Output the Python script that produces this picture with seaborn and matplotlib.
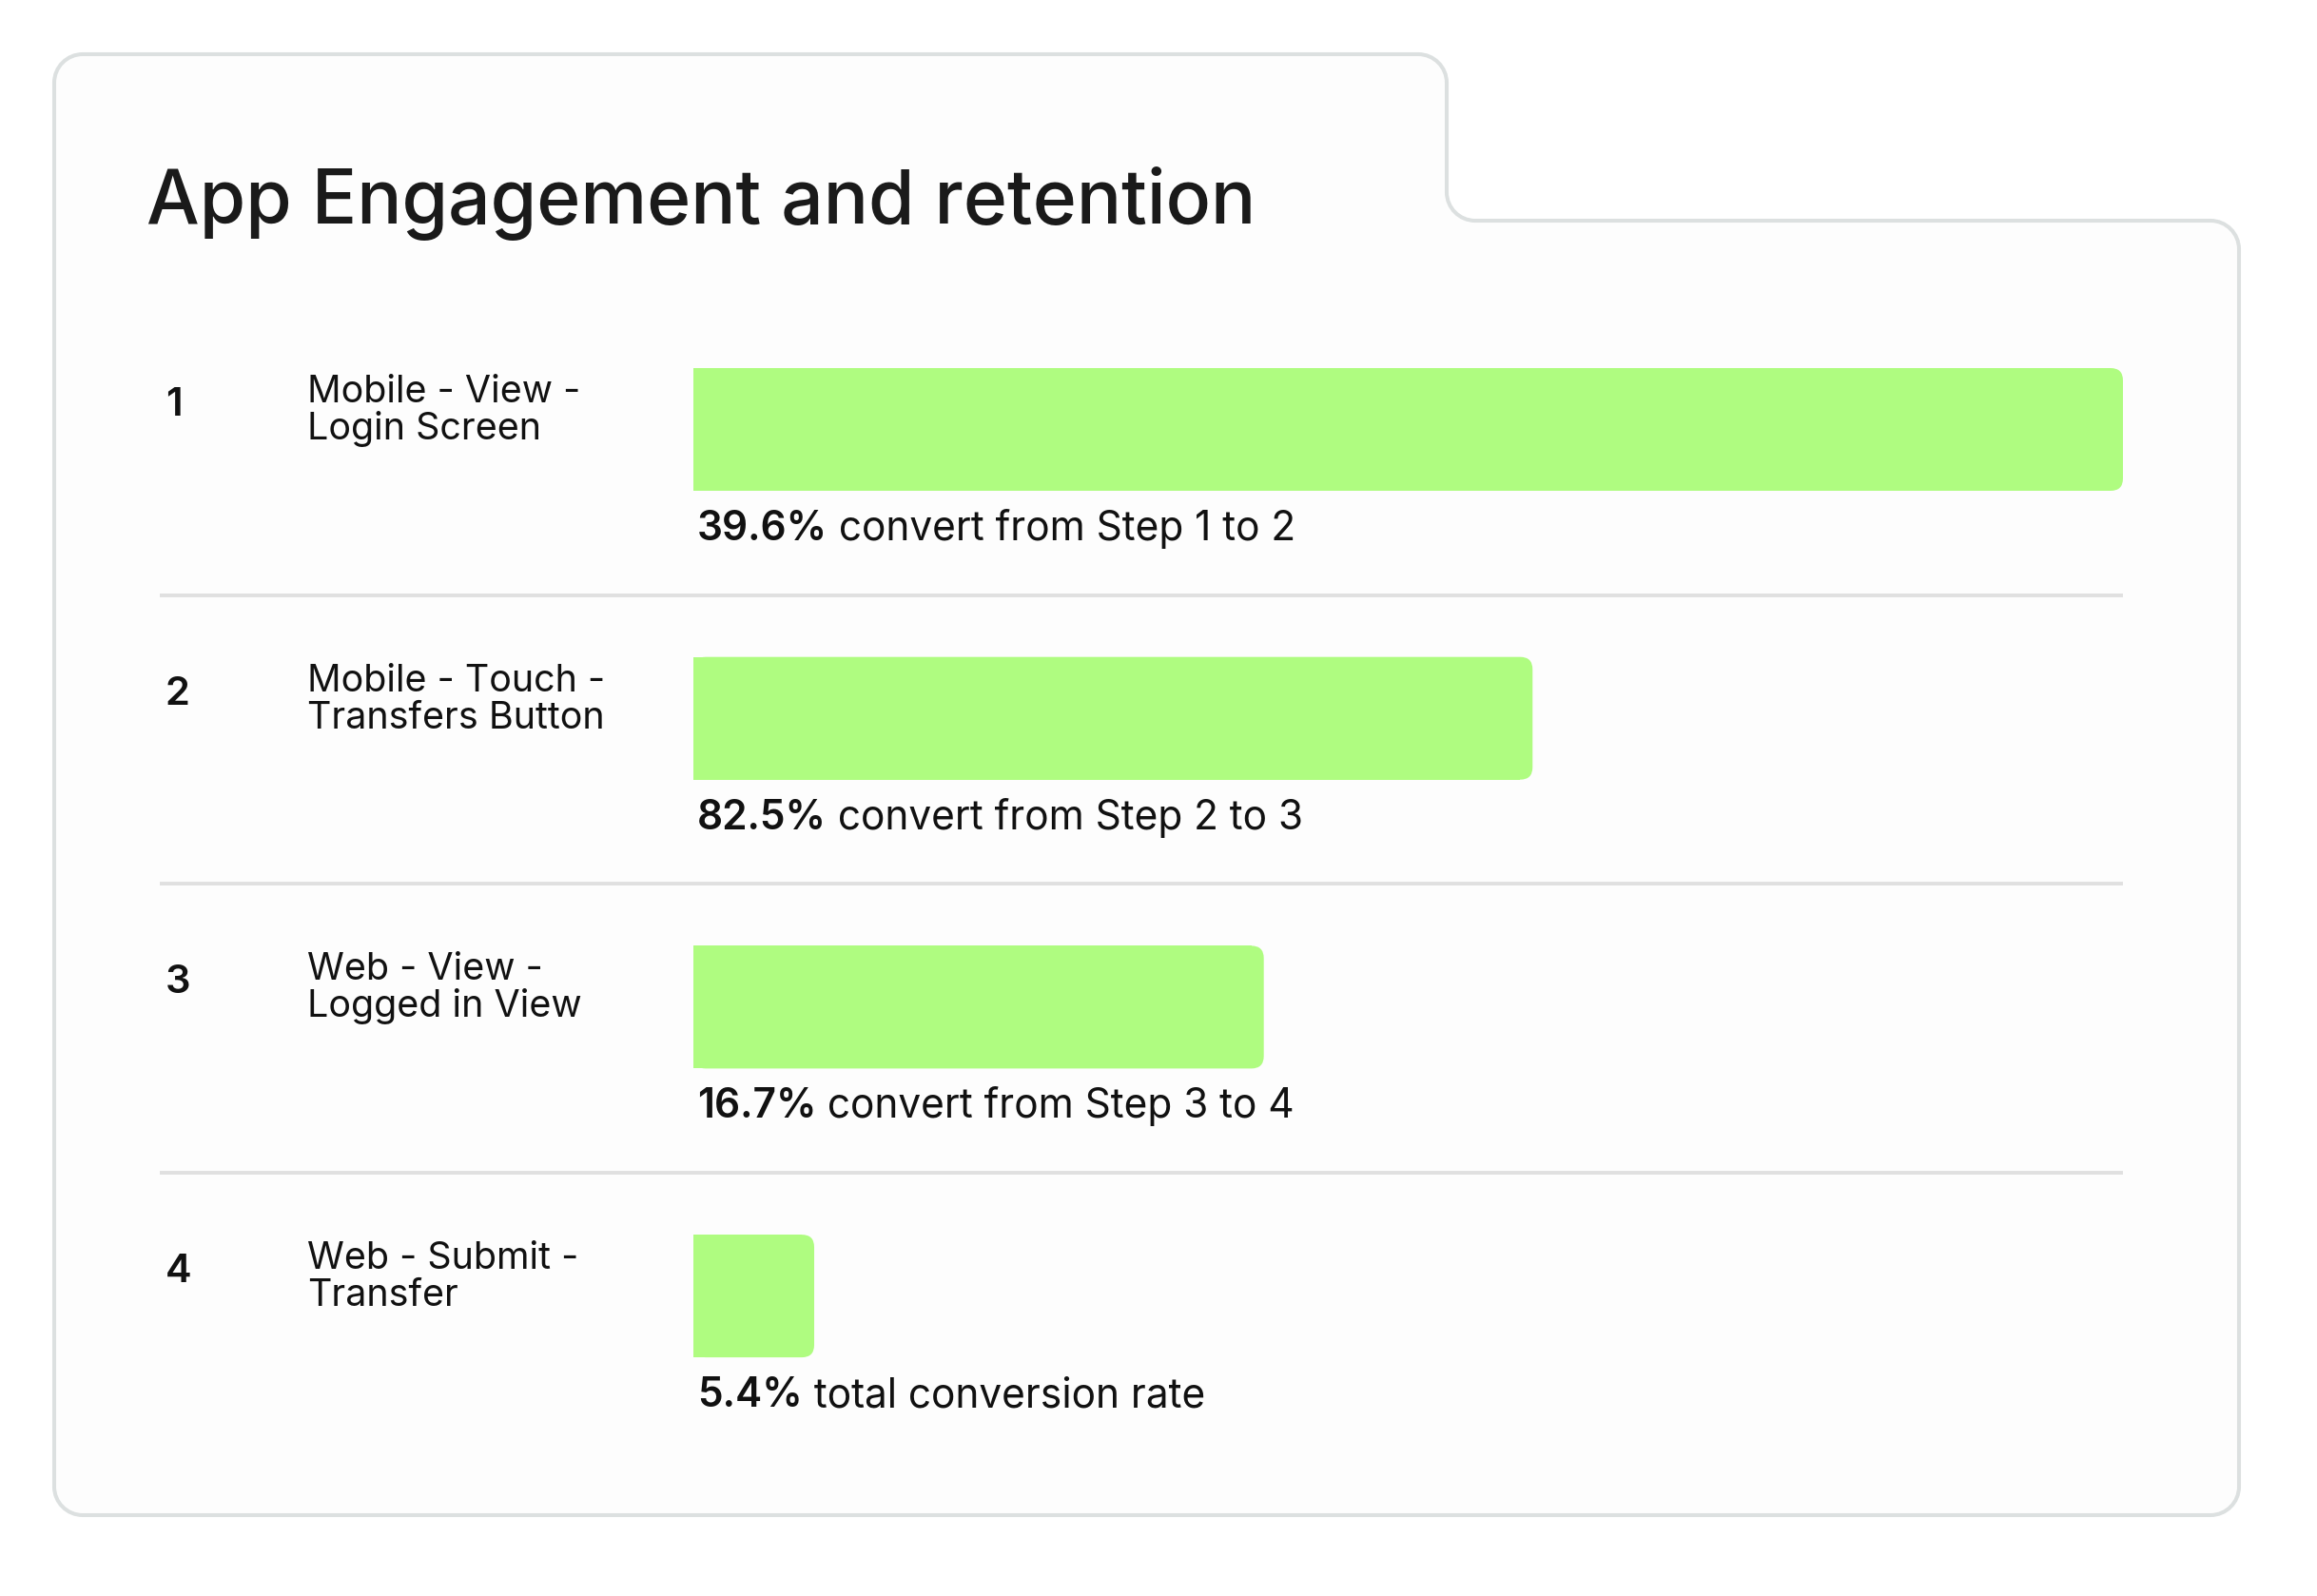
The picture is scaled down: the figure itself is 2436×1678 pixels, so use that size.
import numpy as np
import pandas as pd
import matplotlib
matplotlib.use("Agg")
import matplotlib.pyplot as plt
import seaborn as sns
from matplotlib.path import Path
from matplotlib.patches import PathPatch, FancyBboxPatch

# ---- data ----
steps = ["1", "2", "3", "4"]
step_names = ["Mobile - View -\nLogin Screen",
              "Mobile - Touch -\nTransfers Button",
              "Web - View -\nLogged in View",
              "Web - Submit -\nTransfer"]
bar_values = [100, 58.7, 39.9, 8.45]          # relative bar length (step 1 = 100)
rate_values = ["39.6%", "82.5%", "16.7%", "5.4%"]
rate_texts = ["convert from Step 1 to 2",
              "convert from Step 2 to 3",
              "convert from Step 3 to 4",
              "total conversion rate"]
title = "App Engagement and retention"

df = pd.DataFrame({"step": steps, "name": step_names, "value": bar_values})

# ---- layout (pixels) ----
W, H = 2436, 1678
ROW0, ROW_STEP, BAR_H = 451.5, 303.7, 129
BAR_X0, BAR_X1 = 729, 2232
GREEN = "#AFFC80"

sns.set_theme(style="white")
plt.rcParams["font.family"] = ["Inter", "DejaVu Sans"]

fig = plt.figure(figsize=(W / 100, H / 100), dpi=100, facecolor="white")

# background axes in pixel units, y going down
bg = fig.add_axes([0, 0, 1, 1], zorder=0)
bg.set_xlim(0, W)
bg.set_ylim(H, 0)
bg.axis("off")


def rounded_poly(pts, r):
    verts, codes = [], []
    k = 0.5523
    n = len(pts)
    for i in range(n):
        p = np.array(pts[i], float)
        a = np.array(pts[i - 1], float)
        b = np.array(pts[(i + 1) % n], float)
        s = p + (a - p) / np.linalg.norm(a - p) * r
        e = p + (b - p) / np.linalg.norm(b - p) * r
        verts += [s, s + (p - s) * k, e + (p - e) * k, e]
        codes += [Path.MOVETO if i == 0 else Path.LINETO, Path.CURVE4, Path.CURVE4, Path.CURVE4]
    verts.append(verts[0])
    codes.append(Path.CLOSEPOLY)
    return Path(verts, codes)


card = [(57, 57), (1521, 57), (1521, 232), (2354, 232), (2354, 1593), (57, 1593)]
bg.add_patch(PathPatch(rounded_poly(card, 30), facecolor="#FDFDFD",
                       edgecolor="#DCE0E0", lw=2.9, transform=bg.transData))

bg.text(154, 235, title, fontsize=56.6, fontweight="medium", color="#1A1A1A", va="baseline")

# ---- bars ----
ax_bottom = ROW0 + 3.5 * ROW_STEP
ax_top = ROW0 - 0.5 * ROW_STEP
ax = fig.add_axes([BAR_X0 / W, 1 - ax_bottom / H, (BAR_X1 - BAR_X0) / W, (ax_bottom - ax_top) / H],
                  zorder=2)
ax.patch.set_alpha(0)
sns.barplot(data=df, x="value", y="step", ax=ax, color=GREEN, saturation=1,
            width=BAR_H / ROW_STEP, orient="h")
ax.set_xlim(0, 100)
ax.set_ylim(3.5, -0.5)
ax.axis("off")

# right-side rounded corners
rx = 13 / ((BAR_X1 - BAR_X0) / 100)
ry = 13 / ROW_STEP
for p in list(ax.patches):
    x, y = p.get_x(), p.get_y()
    w, h = p.get_width(), p.get_height()
    ax.add_patch(FancyBboxPatch((x, y), w, h, boxstyle=f"round,pad=0,rounding_size={rx}",
                                mutation_aspect=ry / rx, facecolor=GREEN, edgecolor="none"))
    p.set_width(w - rx)
    p.set_edgecolor("none")

# ---- row texts and separators ----
renderer = fig.canvas.get_renderer()
for i in range(len(steps)):
    top = ROW0 + i * ROW_STEP - BAR_H / 2
    bg.text(174, top + 50, steps[i], fontsize=30, fontweight="semibold", color="#111111", va="baseline")
    for j, line in enumerate(step_names[i].split("\n")):
        bg.text(323, top + 36 + j * 39, line, fontsize=28.4, color="#111111", va="baseline")
    t = bg.text(733, top + 181, rate_values[i], fontsize=30.5, fontweight="semibold",
                color="#111111", va="baseline")
    wpx = t.get_window_extent(renderer).width
    bg.text(733 + wpx, top + 181, " " + rate_texts[i], fontsize=30.5, color="#111111", va="baseline")
    if i < len(steps) - 1:
        sep = ROW0 + i * ROW_STEP + 174
        bg.plot([168, BAR_X1], [sep, sep], color="#E0E0E0", lw=2.8, solid_capstyle="butt")

fig.savefig("out.png", dpi=100, facecolor="white")
